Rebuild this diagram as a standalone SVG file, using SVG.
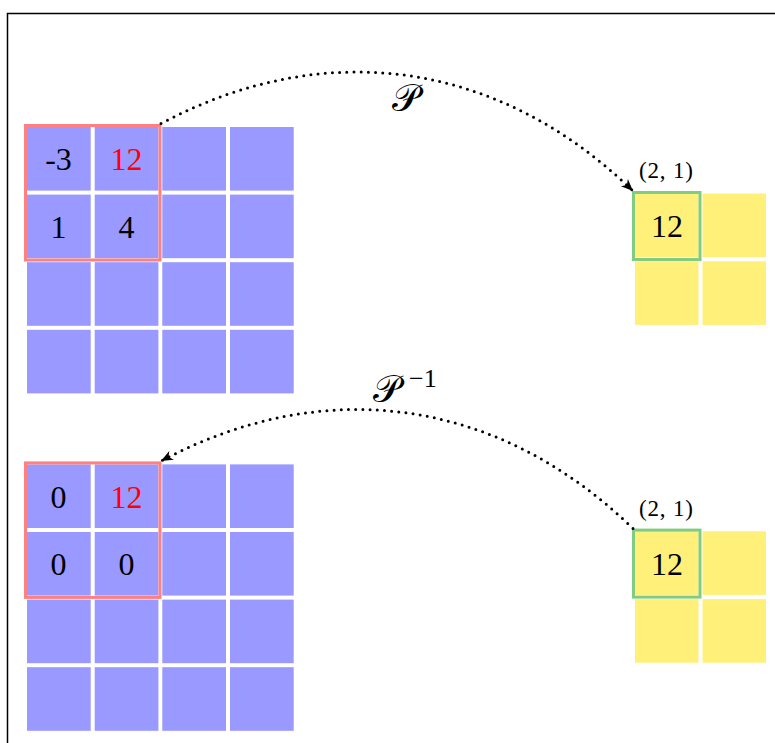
<svg xmlns="http://www.w3.org/2000/svg" width="775" height="743" viewBox="0 0 775 743">
<style>
.cb{fill:#9999ff}
.cy{fill:#fff07a}
.num{font-family:"Liberation Serif",serif;font-size:32px;text-anchor:middle;fill:#000}
.red{fill:#ff0000}
.idx{font-family:"Liberation Serif",serif;font-size:23px;text-anchor:middle;fill:#000}
.fr{fill:none;stroke:#ff8080;stroke-width:3}
.fg{fill:none;stroke:#80cc80;stroke-width:3}
.con{fill:none;stroke:#000;stroke-width:3;stroke-dasharray:0 7.2;stroke-linecap:round}
.lab{font-family:"DejaVu Serif","DejaVu Sans","Noto Sans",serif;font-size:38px;fill:#000}
.sup{font-family:"Liberation Serif",serif;font-size:26px;fill:#000}
</style>
<defs>
<marker id="arr" markerUnits="userSpaceOnUse" viewBox="-13 -6 14 12" refX="0" refY="0" markerWidth="14" markerHeight="12" orient="auto">
<path d="M0,0 L-12,-5 L-8.5,0 L-12,5 Z" fill="#000"/>
</marker>
<g id="grid4">
<rect class="cb" x="27" y="0" width="63.7" height="63.6"/>
<rect class="cb" x="94.7" y="0" width="63.7" height="63.6"/>
<rect class="cb" x="162.3" y="0" width="63.7" height="63.6"/>
<rect class="cb" x="230" y="0" width="63.7" height="63.6"/>
<rect class="cb" x="27" y="67.6" width="63.7" height="63.6"/>
<rect class="cb" x="94.7" y="67.6" width="63.7" height="63.6"/>
<rect class="cb" x="162.3" y="67.6" width="63.7" height="63.6"/>
<rect class="cb" x="230" y="67.6" width="63.7" height="63.6"/>
<rect class="cb" x="27" y="135.2" width="63.7" height="63.6"/>
<rect class="cb" x="94.7" y="135.2" width="63.7" height="63.6"/>
<rect class="cb" x="162.3" y="135.2" width="63.7" height="63.6"/>
<rect class="cb" x="230" y="135.2" width="63.7" height="63.6"/>
<rect class="cb" x="27" y="202.8" width="63.7" height="63.6"/>
<rect class="cb" x="94.7" y="202.8" width="63.7" height="63.6"/>
<rect class="cb" x="162.3" y="202.8" width="63.7" height="63.6"/>
<rect class="cb" x="230" y="202.8" width="63.7" height="63.6"/>
</g>
<g id="grid2">
<rect class="cy" x="635" y="0" width="63.5" height="63.6"/>
<rect class="cy" x="702.5" y="0" width="63.5" height="63.6"/>
<rect class="cy" x="635" y="67.8" width="63.5" height="63.6"/>
<rect class="cy" x="702.5" y="67.8" width="63.5" height="63.6"/>
</g>
</defs>
<g id="frame">
<path d="M7.5,743 L7.5,13.5 L775,13.5" fill="none" stroke="#000" stroke-width="1.5"/>
</g>
<g id="input-top">
<use href="#grid4" y="127"/>
<text class="num" x="58.5" y="170">-3</text>
<text class="num red" x="126.5" y="170">12</text>
<text class="num" x="58.5" y="237.5">1</text>
<text class="num" x="126.5" y="237.5">4</text>
<rect class="fr" x="25.5" y="125.5" width="134.5" height="134.5"/>
</g>
<g id="pooled-top">
<use href="#grid2" y="193.5"/>
<rect class="fg" x="633.5" y="192.5" width="66.5" height="67"/>
<text class="num" x="667" y="237">12</text>
<text class="idx" x="666" y="178" textLength="54" lengthAdjust="spacing">(2, 1)</text>
</g>
<g id="output-bottom">
<use href="#grid4" y="464.4"/>
<text class="num" x="58.5" y="507.5">0</text>
<text class="num red" x="126.5" y="507.5">12</text>
<text class="num" x="58.5" y="575">0</text>
<text class="num" x="126.5" y="575">0</text>
<rect class="fr" x="25.5" y="462.9" width="134.5" height="134.5"/>
</g>
<g id="pooled-bottom">
<use href="#grid2" y="531.3"/>
<rect class="fg" x="633.5" y="530.1" width="66.5" height="67"/>
<text class="num" x="667" y="574.5">12</text>
<text class="idx" x="666" y="515.5" textLength="54" lengthAdjust="spacing">(2, 1)</text>
</g>
<g id="connectors">
<path class="con" d="M161,123.5 C326,36 499,61 633,191" marker-end="url(#arr)"/>
<path class="con" d="M633,528.5 C499,398.5 326,373.5 161,461" marker-end="url(#arr)"/>
<text class="lab" x="392" y="111">𝒫</text>
<text class="lab" x="373" y="402">𝒫</text>
<text class="sup" x="409" y="387">−1</text>
</g>
</svg>
